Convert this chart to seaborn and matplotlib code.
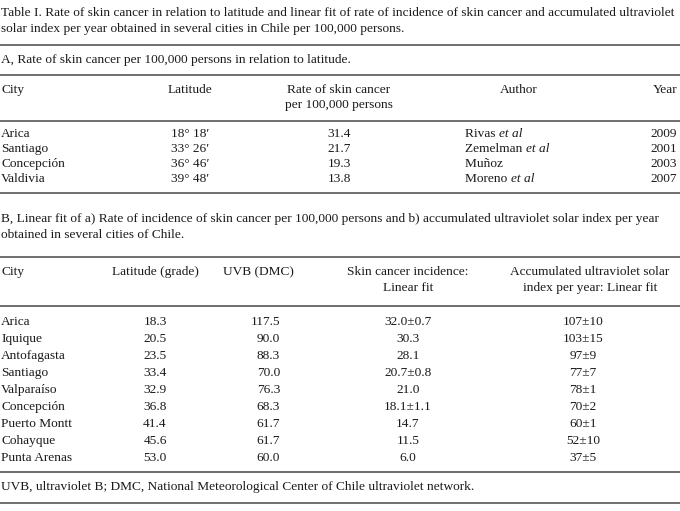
import seaborn as sns
import matplotlib.pyplot as plt

# ---- table data ----
title_lines = ["Table I. Rate of skin cancer in relation to latitude and linear fit of rate of incidence of skin cancer and accumulated ultraviolet",
               "solar index per year obtained in several cities in Chile per 100,000 persons."]
part_a = "A, Rate of skin cancer per 100,000 persons in relation to latitude."
cities_a = ["Arica", "Santiago", "Concepción", "Valdivia"]
latitude_a = ["18° 18′", "33° 26′", "36° 46′", "39° 48′"]
rate_a = ["31.4", "21.7", "19.3", "13.8"]
authors_a = ["Rivas", "Zemelman", "Muñoz", "Moreno"]
et_al_a = [True, True, False, True]
years_a = ["2009", "2001", "2003", "2007"]

part_b = ["B, Linear fit of a) Rate of incidence of skin cancer per 100,000 persons and b) accumulated ultraviolet solar index per year",
          "obtained in several cities of Chile."]
cities_b = ["Arica", "Iquique", "Antofagasta", "Santiago", "Valparaíso", "Concepción",
            "Puerto Montt", "Cohayque", "Punta Arenas"]
latitude_b = ["18.3", "20.5", "23.5", "33.4", "32.9", "36.8", "41.4", "45.6", "53.0"]
uvb_b = ["117.5", "90.0", "88.3", "70.0", "76.3", "68.3", "61.7", "61.7", "60.0"]
skin_fit_b = ["32.0±0.7", "30.3", "28.1", "20.7±0.8", "21.0", "18.1±1.1", "14.7", "11.5", "6.0"]
uv_fit_b = ["107±10", "103±15", "97±9", "77±7", "78±1", "70±2", "60±1", "52±10", "37±5"]
footnote = "UVB, ultraviolet B; DMC, National Meteorological Center of Chile ultraviolet network."

sns.set_theme(style="white")
plt.rcParams['font.family'] = ['Liberation Serif', 'DejaVu Serif']

fig = plt.figure(figsize=(6.8, 5.11), dpi=100)
ax = fig.add_axes([0, 0, 1, 1])
ax.set_xlim(0, 680)
ax.set_ylim(511, 0)
ax.axis("off")

fs = 9.6
col = "#1a1a1a"
rule = "#555555"

def txt(x, y, s, ha="left", **kw):
    return ax.text(x, y, s, ha=ha, va="center", fontsize=fs, color=col, **kw)

def hrule(y):
    ax.axhline(y, color=rule, lw=1.2)

# title
txt(1, 13, title_lines[0])
txt(1, 29, title_lines[1])
hrule(45)

# part A
txt(1, 60, part_a)
hrule(75)
txt(1, 90, "City")
txt(190, 90, "Latitude", ha="center")
txt(339, 90, "Rate of skin cancer", ha="center")
txt(339, 105, "per 100,000 persons", ha="center")
txt(519, 90, "Author", ha="center")
txt(677, 90, "Year", ha="right")
hrule(121)

fig.canvas.draw()
r = fig.canvas.get_renderer()
row_a = [134, 149, 164, 179]
for i, y in enumerate(row_a):
    txt(1, y, cities_a[i])
    txt(190, y, latitude_a[i], ha="center")
    txt(339, y, rate_a[i], ha="center")
    t = txt(465, y, authors_a[i] + " ")
    if et_al_a[i]:
        bb = t.get_window_extent(renderer=r)
        x_end = ax.transData.inverted().transform((bb.x1, bb.y0))[0]
        txt(x_end, y, "et al", style="italic")
    txt(677, y, years_a[i], ha="right")
hrule(193)

# part B
txt(1, 219, part_b[0])
txt(1, 235, part_b[1])
hrule(257)
txt(1, 272, "City")
txt(155, 272, "Latitude (grade)", ha="center")
txt(258, 272, "UVB (DMC)", ha="center")
txt(408, 272, "Skin cancer incidence:", ha="center")
txt(408, 288, "Linear fit", ha="center")
txt(590, 272, "Accumulated ultraviolet solar", ha="center")
txt(590, 288, "index per year: Linear fit", ha="center")
hrule(306)

for i in range(len(cities_b)):
    y = 322 + 17 * i
    txt(1, y, cities_b[i])
    txt(155, y, latitude_b[i], ha="center")
    txt(280, y, uvb_b[i], ha="right")
    txt(408, y, skin_fit_b[i], ha="center")
    txt(583, y, uv_fit_b[i], ha="center")
hrule(472)

txt(1, 487, footnote)
hrule(503)

fig.savefig("out.png", dpi=100, facecolor="white")
